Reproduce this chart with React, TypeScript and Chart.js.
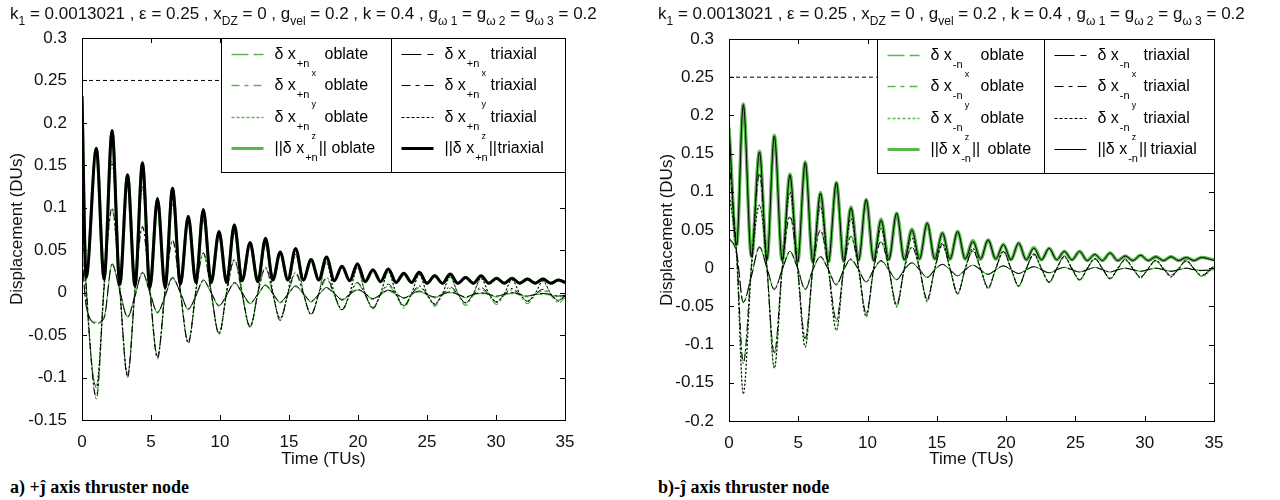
import React, { useEffect, useRef } from 'react';
import { Chart, registerables } from 'chart.js';

Chart.register(...registerables);

const FONT = "'Liberation Sans', Arial, Helvetica, sans-serif";
const GREEN = '#58b84c';
const BLACK = '#000000';

// ---------- panel a) +j axis thruster node ----------
const timeA = [0, 0.3, 1.04, 1.6, 2.18, 2.74, 3.3, 3.84, 4.38, 4.92, 5.47, 6.02, 6.56, 7.13, 7.7, 8.25,
  8.79, 9.36, 9.93, 10.48, 11.04, 11.6, 12.18, 12.74, 13.3, 13.83, 14.36, 14.92, 15.48, 16.04, 16.6, 17.16,
  17.72, 18.28, 18.84, 19.4, 19.96, 20.52, 21.08, 21.64, 22.2, 22.76, 23.32, 23.88, 24.44, 25.0, 25.56, 26.12,
  26.68, 27.24, 27.8, 28.36, 28.92, 29.48, 30.04, 30.6, 31.16, 31.72, 32.28, 32.84, 33.4, 33.96, 34.52, 35];

const normTriaxA = [0.232, 0.018, 0.170, 0.016, 0.191, 0.010, 0.139, 0.008,
  0.153, 0.006, 0.111, 0.006, 0.123, 0.010, 0.090, 0.012,
  0.098, 0.012, 0.072, 0.012, 0.080, 0.014, 0.059, 0.013,
  0.064, 0.015, 0.048, 0.015, 0.052, 0.015, 0.039, 0.015,
  0.042, 0.014, 0.031, 0.014, 0.034, 0.013, 0.027, 0.013,
  0.028, 0.012, 0.023, 0.012, 0.024, 0.011, 0.020, 0.011,
  0.022, 0.011, 0.018, 0.011, 0.020, 0.011, 0.017, 0.011,
  0.017, 0.011, 0.016, 0.011, 0.016, 0.011, 0.015, 0.012];
const xTriaxA = [0.045, -0.015, -0.036, -0.030, 0.034, 0.002, -0.029, -0.004,
  0.024, 0.000, -0.023, -0.004, 0.018, 0.000, -0.019, -0.004,
  0.015, 0.000, -0.015, -0.003, 0.012, 0.000, -0.012, -0.002,
  0.009, -0.001, -0.011, -0.002, 0.008, -0.001, -0.010, -0.002,
  0.006, -0.001, -0.008, -0.002, 0.004, -0.001, -0.007, -0.002,
  0.003, -0.001, -0.006, -0.002, 0.002, -0.002, -0.005, -0.002,
  0.001, -0.002, -0.005, -0.002, 0.000, -0.002, -0.004, -0.002,
  0.000, -0.002, -0.004, -0.002, -0.001, -0.002, -0.004, -0.003];
const yTriaxA = [0.100, 0.010, -0.125, 0.005, 0.100, 0.003, -0.100, 0.003,
  0.078, 0.002, -0.077, 0.002, 0.062, 0.001, -0.060, 0.001,
  0.047, 0.000, -0.049, 0.000, 0.039, -0.001, -0.041, -0.001,
  0.030, -0.001, -0.033, -0.001, 0.024, -0.001, -0.026, -0.001,
  0.018, -0.002, -0.020, -0.002, 0.012, -0.002, -0.018, -0.002,
  0.010, -0.002, -0.016, -0.002, 0.008, -0.002, -0.014, -0.002,
  0.007, -0.002, -0.012, -0.002, 0.006, -0.002, -0.011, -0.002,
  0.005, -0.002, -0.010, -0.002, 0.004, -0.002, -0.010, -0.004];
const zTriaxA = [0.120, 0.005, -0.112, 0.010, 0.155, 0.005, -0.097, 0.004,
  0.125, 0.003, -0.075, 0.003, 0.105, 0.002, -0.058, 0.002,
  0.085, 0.001, -0.048, 0.001, 0.070, 0.000, -0.040, 0.000,
  0.056, 0.000, -0.030, 0.000, 0.045, 0.000, -0.025, -0.001,
  0.036, -0.001, -0.020, -0.001, 0.030, -0.001, -0.018, -0.001,
  0.025, -0.001, -0.015, -0.001, 0.021, -0.001, -0.013, -0.001,
  0.019, -0.001, -0.012, -0.001, 0.017, -0.001, -0.011, -0.001,
  0.015, -0.001, -0.010, -0.001, 0.014, -0.001, -0.009, -0.003];
const normOblateA = [0.230, 0.018, 0.169, 0.016, 0.190, 0.010, 0.138, 0.008,
  0.152, 0.006, 0.110, 0.006, 0.122, 0.010, 0.089, 0.012,
  0.097, 0.012, 0.071, 0.012, 0.079, 0.014, 0.058, 0.013,
  0.063, 0.015, 0.047, 0.015, 0.051, 0.015, 0.038, 0.015,
  0.041, 0.014, 0.031, 0.014, 0.033, 0.013, 0.026, 0.013,
  0.028, 0.012, 0.022, 0.012, 0.024, 0.011, 0.020, 0.011,
  0.021, 0.011, 0.018, 0.011, 0.019, 0.011, 0.017, 0.011,
  0.017, 0.011, 0.016, 0.011, 0.016, 0.011, 0.015, 0.012];
const xOblateA = [0.044, -0.015, -0.035, -0.029, 0.033, 0.002, -0.028, -0.004,
  0.023, 0.000, -0.024, -0.004, 0.017, 0.000, -0.020, -0.004,
  0.014, 0.000, -0.016, -0.003, 0.011, 0.000, -0.013, -0.002,
  0.008, -0.001, -0.012, -0.002, 0.007, -0.001, -0.011, -0.002,
  0.005, -0.001, -0.009, -0.002, 0.003, -0.001, -0.008, -0.002,
  0.002, -0.002, -0.007, -0.002, 0.001, -0.002, -0.006, -0.002,
  0.000, -0.002, -0.006, -0.002, -0.001, -0.002, -0.005, -0.002,
  -0.001, -0.002, -0.005, -0.002, -0.002, -0.003, -0.005, -0.004];
const yOblateA = [0.098, 0.010, -0.122, 0.005, 0.098, 0.003, -0.098, 0.003,
  0.077, 0.002, -0.078, 0.002, 0.061, 0.001, -0.059, 0.001,
  0.046, 0.000, -0.048, 0.000, 0.038, -0.001, -0.040, -0.001,
  0.029, -0.002, -0.032, -0.002, 0.022, -0.002, -0.026, -0.002,
  0.016, -0.003, -0.021, -0.003, 0.011, -0.003, -0.019, -0.003,
  0.008, -0.003, -0.018, -0.003, 0.006, -0.003, -0.016, -0.003,
  0.005, -0.003, -0.015, -0.003, 0.004, -0.003, -0.014, -0.003,
  0.003, -0.003, -0.013, -0.003, 0.002, -0.003, -0.012, -0.006];
const zOblateA = [0.118, 0.005, -0.110, 0.010, 0.153, 0.005, -0.096, 0.004,
  0.123, 0.003, -0.074, 0.003, 0.103, 0.002, -0.057, 0.002,
  0.084, 0.001, -0.047, 0.001, 0.069, 0.000, -0.039, 0.000,
  0.055, 0.000, -0.030, 0.000, 0.044, 0.000, -0.025, -0.001,
  0.035, -0.001, -0.020, -0.001, 0.029, -0.001, -0.017, -0.001,
  0.024, -0.001, -0.015, -0.001, 0.021, -0.001, -0.013, -0.001,
  0.018, -0.001, -0.012, -0.001, 0.016, -0.001, -0.011, -0.001,
  0.015, -0.001, -0.010, -0.001, 0.013, -0.001, -0.009, -0.003];

// ---------- panel b) -j axis thruster node ----------
const timeB = [0, 0.55, 1.03, 1.62, 2.2, 2.74, 3.27, 3.84, 4.4, 4.95, 5.5, 6.05, 6.6, 7.17, 7.75, 8.28,
  8.8, 9.35, 9.9, 10.44, 10.97, 11.53, 12.1, 12.65, 13.2, 13.75, 14.3, 14.85, 15.4, 15.95, 16.5, 17.05,
  17.6, 18.15, 18.7, 19.25, 19.8, 20.35, 20.9, 21.45, 22.0, 22.55, 23.1, 23.65, 24.2, 24.75, 25.3, 25.85,
  26.4, 26.95, 27.5, 28.05, 28.6, 29.15, 29.7, 30.25, 30.8, 31.35, 31.9, 32.45, 33.0, 33.55, 34.1, 35];

const normTriaxB = [0.186, 0.030, 0.214, 0.015, 0.152, 0.011, 0.173, 0.010,
  0.122, 0.008, 0.138, 0.008, 0.098, 0.008, 0.112, 0.009,
  0.079, 0.010, 0.090, 0.010, 0.063, 0.011, 0.072, 0.011,
  0.050, 0.012, 0.059, 0.012, 0.046, 0.012, 0.048, 0.012,
  0.035, 0.012, 0.037, 0.012, 0.031, 0.011, 0.033, 0.011,
  0.026, 0.011, 0.026, 0.011, 0.022, 0.011, 0.022, 0.010,
  0.018, 0.010, 0.020, 0.010, 0.016, 0.010, 0.017, 0.010,
  0.015, 0.010, 0.015, 0.010, 0.014, 0.010, 0.014, 0.010];
const xTriaxB = [0.040, 0.020, -0.045, -0.010, 0.028, 0.000, -0.028, -0.002,
  0.022, 0.000, -0.028, -0.002, 0.015, -0.002, -0.022, -0.002,
  0.012, -0.002, -0.018, -0.002, 0.010, -0.002, -0.015, -0.002,
  0.007, -0.002, -0.012, -0.002, 0.005, -0.002, -0.010, -0.002,
  0.004, -0.002, -0.008, -0.002, 0.003, -0.002, -0.007, -0.002,
  0.002, -0.002, -0.006, -0.002, 0.001, -0.002, -0.005, -0.002,
  0.001, -0.002, -0.005, -0.002, 0.000, -0.002, -0.004, -0.002,
  0.000, -0.002, -0.004, -0.002, 0.000, -0.002, -0.003, -0.002];
const yTriaxB = [0.145, 0.020, -0.125, 0.005, 0.124, 0.000, -0.112, 0.000,
  0.068, 0.000, -0.092, 0.000, 0.050, 0.000, -0.068, 0.000,
  0.042, 0.000, -0.059, -0.001, 0.035, -0.001, -0.047, -0.001,
  0.028, -0.001, -0.040, -0.001, 0.031, -0.001, -0.033, -0.001,
  0.023, -0.001, -0.025, -0.001, 0.022, -0.001, -0.023, -0.001,
  0.019, -0.001, -0.018, -0.001, 0.016, -0.001, -0.015, -0.001,
  0.013, -0.001, -0.013, -0.001, 0.012, -0.001, -0.011, -0.001,
  0.011, -0.001, -0.009, -0.001, 0.011, -0.001, -0.009, 0.003];
const zTriaxB = [0.100, 0.015, -0.165, 0.000, 0.083, 0.000, -0.131, 0.000,
  0.100, 0.000, -0.103, 0.000, 0.081, 0.000, -0.081, 0.000,
  0.065, 0.000, -0.063, 0.000, 0.052, 0.000, -0.050, 0.000,
  0.040, 0.000, -0.043, 0.000, 0.033, 0.000, -0.033, 0.000,
  0.026, 0.000, -0.026, 0.000, 0.022, 0.000, -0.023, 0.000,
  0.018, 0.000, -0.018, 0.000, 0.015, 0.000, -0.015, 0.000,
  0.012, 0.000, -0.014, 0.000, 0.011, 0.000, -0.012, 0.000,
  0.010, 0.000, -0.011, 0.000, 0.009, 0.000, -0.010, 0.002];
const normOblateB = [0.184, 0.030, 0.215, 0.015, 0.153, 0.011, 0.174, 0.010,
  0.123, 0.008, 0.139, 0.008, 0.099, 0.008, 0.112, 0.009,
  0.080, 0.010, 0.090, 0.010, 0.064, 0.011, 0.072, 0.011,
  0.051, 0.012, 0.059, 0.012, 0.046, 0.012, 0.048, 0.012,
  0.036, 0.012, 0.037, 0.012, 0.031, 0.011, 0.033, 0.011,
  0.027, 0.011, 0.026, 0.011, 0.022, 0.011, 0.022, 0.010,
  0.018, 0.010, 0.020, 0.010, 0.016, 0.010, 0.017, 0.010,
  0.015, 0.010, 0.015, 0.010, 0.014, 0.010, 0.014, 0.011];
const xOblateB = [0.039, 0.020, -0.044, -0.010, 0.027, 0.000, -0.027, -0.002,
  0.021, 0.000, -0.027, -0.002, 0.015, -0.002, -0.021, -0.002,
  0.011, -0.002, -0.018, -0.002, 0.009, -0.002, -0.015, -0.002,
  0.007, -0.002, -0.012, -0.002, 0.005, -0.002, -0.010, -0.002,
  0.004, -0.002, -0.008, -0.002, 0.003, -0.002, -0.007, -0.002,
  0.002, -0.002, -0.006, -0.002, 0.001, -0.002, -0.005, -0.002,
  0.001, -0.002, -0.005, -0.002, 0.000, -0.002, -0.004, -0.002,
  0.000, -0.002, -0.004, -0.002, 0.000, -0.002, -0.003, -0.002];
const yOblateB = [0.143, 0.020, -0.123, 0.005, 0.123, 0.000, -0.110, 0.000,
  0.067, 0.000, -0.094, 0.000, 0.049, 0.000, -0.070, 0.000,
  0.041, 0.000, -0.060, -0.001, 0.034, -0.001, -0.048, -0.001,
  0.027, -0.001, -0.041, -0.001, 0.030, -0.001, -0.034, -0.001,
  0.022, -0.001, -0.026, -0.001, 0.021, -0.001, -0.024, -0.001,
  0.018, -0.001, -0.019, -0.001, 0.015, -0.001, -0.016, -0.001,
  0.012, -0.001, -0.014, -0.001, 0.011, -0.001, -0.012, -0.001,
  0.010, -0.001, -0.010, -0.001, 0.010, -0.001, -0.010, 0.003];
const zOblateB = [0.099, 0.015, -0.163, 0.000, 0.082, 0.000, -0.130, 0.000,
  0.099, 0.000, -0.104, 0.000, 0.080, 0.000, -0.082, 0.000,
  0.064, 0.000, -0.064, 0.000, 0.051, 0.000, -0.051, 0.000,
  0.039, 0.000, -0.044, 0.000, 0.032, 0.000, -0.034, 0.000,
  0.025, 0.000, -0.027, 0.000, 0.021, 0.000, -0.024, 0.000,
  0.017, 0.000, -0.019, 0.000, 0.014, 0.000, -0.016, 0.000,
  0.012, 0.000, -0.014, 0.000, 0.010, 0.000, -0.013, 0.000,
  0.009, 0.000, -0.012, 0.000, 0.009, 0.000, -0.011, 0.002];

// threshold line (both panels)
const thresholdTimes = [0, 35];
const thresholdValues = [0.25, 0.25];

const xTickStep = 5;
const yTickStep = 0.05;

// ---------- helpers ----------
const pts = (ts: number[], vs: number[]) => ts.map((t, i) => ({ x: t, y: vs[i] }));

function ds(label: string, ts: number[], vs: number[], color: string, width: number, dash: number[]) {
  return {
    label,
    data: pts(ts, vs),
    borderColor: color,
    borderWidth: width,
    borderDash: dash,
    pointRadius: 0,
    fill: false,
    cubicInterpolationMode: 'monotone',
  };
}

type Row = {
  dash: number[]; color: string; width: number;
  main: string; sub: string; subsub: string; after: string; word: string; wordOffset: number;
};
type LegendCfg = { width: number; height: number; divider: number; columns: Row[][] };

function makeAxesPlugin(lg: LegendCfg) {
  return {
    id: 'matlabAxes',
    afterDatasetsDraw(chart: any) {
      const { ctx, chartArea } = chart;
      const { left, right, top, bottom } = chartArea;
      const xs = chart.scales.x;
      const ys = chart.scales.y;
      ctx.save();
      ctx.strokeStyle = '#000';
      ctx.lineWidth = 1;
      ctx.setLineDash([]);
      ctx.beginPath();
      xs.ticks.forEach((t: any) => {
        const p = Math.round(xs.getPixelForValue(t.value)) + 0.5;
        ctx.moveTo(p, bottom); ctx.lineTo(p, bottom - 5);
        ctx.moveTo(p, top); ctx.lineTo(p, top + 5);
      });
      ys.ticks.forEach((t: any) => {
        const p = Math.round(ys.getPixelForValue(t.value)) + 0.5;
        ctx.moveTo(left, p); ctx.lineTo(left + 5, p);
        ctx.moveTo(right, p); ctx.lineTo(right - 5, p);
      });
      ctx.stroke();
      ctx.strokeRect(Math.round(left) + 0.5, Math.round(top) + 0.5, Math.round(right - left), Math.round(bottom - top));

      // legend box
      const L = Math.round(right - lg.width) + 0.5;
      const T = Math.round(top) + 0.5;
      ctx.fillStyle = '#fff';
      ctx.fillRect(L, T, lg.width, lg.height);
      ctx.strokeRect(L, T, lg.width, lg.height);
      ctx.beginPath();
      ctx.moveTo(L + lg.divider, T);
      ctx.lineTo(L + lg.divider, T + lg.height);
      ctx.stroke();
      lg.columns.forEach((col, c) => {
        const cx = L + (c === 0 ? 0 : lg.divider);
        col.forEach((row, i) => {
          const y = Math.round(T + 15 + i * 31.5) + 0.5;
          ctx.save();
          ctx.strokeStyle = row.color;
          ctx.lineWidth = row.width;
          ctx.setLineDash(row.dash);
          ctx.beginPath();
          ctx.moveTo(cx + 10, y);
          ctx.lineTo(cx + 42, y);
          ctx.stroke();
          ctx.restore();
          ctx.fillStyle = '#000';
          ctx.textBaseline = 'middle';
          ctx.textAlign = 'left';
          const tx = cx + 53;
          ctx.font = `16px ${FONT}`;
          ctx.fillText(row.main, tx, y);
          let x = tx + ctx.measureText(row.main).width + 1;
          ctx.font = `11px ${FONT}`;
          ctx.fillText(row.sub, x, y + 9);
          x += ctx.measureText(row.sub).width;
          if (row.subsub) {
            ctx.font = `9px ${FONT}`;
            ctx.fillText(row.subsub, x + 2, y + 19);
          }
          ctx.font = `16px ${FONT}`;
          if (row.after) ctx.fillText(row.after, x + 1, y);
          ctx.fillText(row.word, tx + row.wordOffset, y);
        });
      });
      ctx.restore();
    },
  };
}

function legendFor(sign: string, blackNormWidth: number, width: number, divider: number): LegendCfg {
  const mk = (color: string, w: number, nw: number, word: string, off: number, offN: number, dashes: number[][]): Row[] => [
    { dash: dashes[0], color, width: w, main: 'δ x', sub: sign + 'n', subsub: 'x', after: '', word, wordOffset: off },
    { dash: dashes[1], color, width: w, main: 'δ x', sub: sign + 'n', subsub: 'y', after: '', word, wordOffset: off },
    { dash: dashes[2], color, width: w, main: 'δ x', sub: sign + 'n', subsub: 'z', after: '', word, wordOffset: off },
    { dash: [], color, width: nw, main: '||δ x', sub: sign + 'n', subsub: '', after: '||', word, wordOffset: offN },
  ];
  return {
    width, height: 134, divider,
    columns: [
      mk(GREEN, 1.5, 3, 'oblate', 50, 57, [[17, 5], [8, 5, 4, 5], [3, 2]]),
      mk(BLACK, 1, blackNormWidth, 'triaxial', 46, 53, [[20, 6], [9, 5, 4, 5], [3, 2]]),
    ],
  };
}

const DASH_X = [12, 3];
const DASH_Y = [7, 3, 2, 3];
const DASH_Z = [2, 2];

type PanelProps = {
  left: number; width: number; height: number;
  area: { left: number; right: number; top: number; bottom: number };
  yMin: number; yMax: number; datasets: any[]; legend: LegendCfg;
};

function Panel(p: PanelProps) {
  const ref = useRef<HTMLCanvasElement>(null);
  useEffect(() => {
    const canvas = ref.current;
    if (!canvas) return;
    const tickFont = { family: FONT, size: 17 };
    const chart = new Chart(canvas, {
      type: 'line',
      data: { datasets: p.datasets },
      options: {
        animation: false,
        responsive: false,
        devicePixelRatio: 1,
        layout: { padding: { left: 0, top: p.area.top, right: p.width - p.area.right, bottom: 0 } },
        plugins: { legend: { display: false }, tooltip: { enabled: false } },
        elements: { point: { radius: 0 } },
        scales: {
          x: {
            type: 'linear', min: 0, max: 35,
            grid: { display: false }, border: { display: false },
            ticks: { stepSize: xTickStep, font: tickFont, color: '#111', padding: 4, maxRotation: 0, autoSkip: false },
            title: { display: true, text: 'Time (TUs)', font: tickFont, color: '#111', padding: 0 },
            afterFit: (s: any) => { s.height = p.height - p.area.bottom; },
          },
          y: {
            type: 'linear', min: p.yMin, max: p.yMax,
            grid: { display: false }, border: { display: false },
            ticks: {
              stepSize: yTickStep, font: tickFont, color: '#111', padding: 7, autoSkip: false,
              callback: (v: any) => String(Math.round(Number(v) * 100) / 100),
            },
            title: { display: true, text: 'Displacement (DUs)', font: tickFont, color: '#111', padding: { top: 7, bottom: 0 } },
            afterFit: (s: any) => { s.width = p.area.left; },
          },
        },
      } as any,
      plugins: [makeAxesPlugin(p.legend) as any],
    });
    return () => chart.destroy();
  }, []);
  return (
    <canvas
      ref={ref}
      width={p.width}
      height={p.height}
      style={{ position: 'absolute', left: p.left, top: 0, width: p.width, height: p.height }}
    />
  );
}

const datasetsA = [
  ds('x triaxial', timeA, xTriaxA, BLACK, 1, DASH_X),
  ds('y triaxial', timeA, yTriaxA, BLACK, 1, DASH_Y),
  ds('z triaxial', timeA, zTriaxA, BLACK, 1, DASH_Z),
  ds('norm triaxial', timeA, normTriaxA, BLACK, 3, []),
  ds('x oblate', timeA, xOblateA, GREEN, 1.3, DASH_X),
  ds('y oblate', timeA, yOblateA, GREEN, 1.3, DASH_Y),
  ds('z oblate', timeA, zOblateA, GREEN, 1.3, DASH_Z),
  ds('norm oblate', timeA, normOblateA, GREEN, 3, []),
  ds('limit', thresholdTimes, thresholdValues, BLACK, 1, [4, 3]),
];

const datasetsB = [
  ds('x triaxial', timeB, xTriaxB, BLACK, 1, DASH_X),
  ds('y triaxial', timeB, yTriaxB, BLACK, 1, DASH_Y),
  ds('z triaxial', timeB, zTriaxB, BLACK, 1, DASH_Z),
  ds('norm triaxial', timeB, normTriaxB, BLACK, 1, []),
  ds('x oblate', timeB, xOblateB, GREEN, 1.3, DASH_X),
  ds('y oblate', timeB, yOblateB, GREEN, 1.3, DASH_Y),
  ds('z oblate', timeB, zOblateB, GREEN, 1.3, DASH_Z),
  ds('norm oblate', timeB, normOblateB, GREEN, 3.5, []),
  ds('limit', thresholdTimes, thresholdValues, BLACK, 1, [4, 3]),
];

const subStyle: React.CSSProperties = { fontSize: 12, position: 'relative', top: 6 };

function Title({ left }: { left: number }) {
  return (
    <div style={{ position: 'absolute', left, top: 3, font: `17px ${FONT}`, color: '#111', whiteSpace: 'nowrap', lineHeight: '22px' }}>
      k<span style={subStyle}>1</span> = 0.0013021 , ε = 0.25 , x<span style={subStyle}>DZ</span> = 0 , g
      <span style={subStyle}>vel</span> = 0.2 , k = 0.4 , g<span style={subStyle}>ω 1</span> = g
      <span style={subStyle}>ω 2</span> = g<span style={subStyle}>ω 3</span> = 0.2
    </div>
  );
}

function Caption({ left, text }: { left: number; text: string }) {
  return (
    <div style={{ position: 'absolute', left, top: 476, font: "bold 18px 'Liberation Serif', 'Times New Roman', serif", color: '#000', whiteSpace: 'nowrap', lineHeight: '22px' }}>
      {text}
    </div>
  );
}

export default function App() {
  return (
    <div style={{ position: 'fixed', left: 0, top: 0, width: 1280, height: 500, background: '#fff', overflow: 'hidden' }}>
      <Panel
        left={0} width={640} height={470}
        area={{ left: 82, right: 565, top: 38, bottom: 420 }}
        yMin={-0.15} yMax={0.3}
        datasets={datasetsA}
        legend={legendFor('+', 3, 344, 170)}
      />
      <Panel
        left={650} width={630} height={470}
        area={{ left: 79, right: 564, top: 39, bottom: 421 }}
        yMin={-0.2} yMax={0.3}
        datasets={datasetsB}
        legend={legendFor('-', 1, 337, 167)}
      />
      <Title left={10} />
      <Title left={658} />
      <Caption left={10} text="a) +ĵ axis thruster node" />
      <Caption left={658} text="b)-ĵ axis thruster node" />
    </div>
  );
}
